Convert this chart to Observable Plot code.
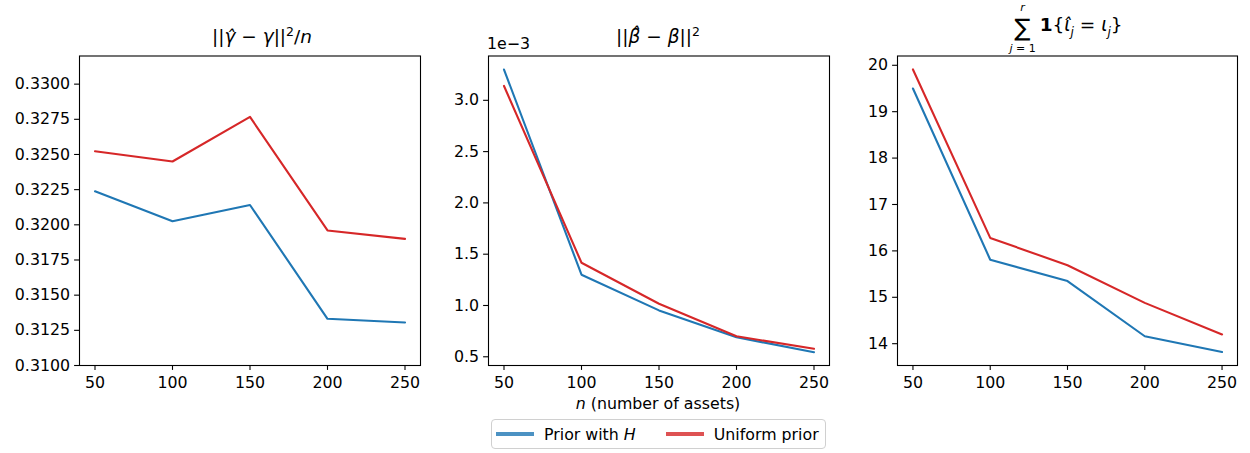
<!DOCTYPE html>
<html>
<head>
<meta charset="utf-8">
<script src="https://cdn.jsdelivr.net/npm/d3@7"></script>
<script src="https://cdn.jsdelivr.net/npm/@observablehq/plot@0.6"></script>
<style>
  html, body { margin: 0; padding: 0; background: white; }
  #chart { position: relative; width: 1250px; height: 453px; background: white; overflow: hidden;
           font-family: "DejaVu Sans", sans-serif; color: black; }
  #chart svg { position: absolute; top: 0; }
  .title { position: absolute; font-size: 18.5px; white-space: nowrap; transform: translateX(-50%); }
  .lbl { position: absolute; font-size: 15.8px; white-space: nowrap; }
  .legend { position: absolute; border: 1px solid #d0d0d0; border-radius: 4px; box-sizing: border-box;
            display: flex; align-items: center; font-size: 15.8px; background: white; }
  .legend .sw { display: inline-block; width: 38px; height: 4.5px; margin-right: 10px; }
  .legend .item { display: flex; align-items: center; }
  .stack > span { display: block; text-align: center; }
</style>
</head>
<body>
<div id="chart"></div>
<script>
// ---- data ----
const nAssets = [50, 100, 150, 200, 250];
const seriesNames = ["Prior with H", "Uniform prior"];
const seriesColors = ["#1f77b4", "#d62728"];

const gammaPriorH  = [0.32238, 0.32025, 0.32141, 0.31332, 0.31306];
const gammaUniform = [0.32523, 0.32450, 0.32767, 0.31960, 0.31900];

const betaPriorH  = [3.300e-3, 1.300e-3, 0.952e-3, 0.690e-3, 0.545e-3];
const betaUniform = [3.140e-3, 1.417e-3, 1.017e-3, 0.700e-3, 0.578e-3];

const matchPriorH  = [19.50, 15.81, 15.35, 14.16, 13.82];
const matchUniform = [19.91, 16.28, 15.69, 14.88, 14.20];

const xTicks = [50, 100, 150, 200, 250];
const gammaTicks = [0.3100, 0.3125, 0.3150, 0.3175, 0.3200, 0.3225, 0.3250, 0.3275, 0.3300];
const betaTicks = [0.5e-3, 1.0e-3, 1.5e-3, 2.0e-3, 2.5e-3, 3.0e-3];
const matchTicks = [14, 15, 16, 17, 18, 19, 20];

// ---- build ----
const chart = document.getElementById("chart");

function rowsOf(a, b) {
  return nAssets.flatMap((n, i) => [
    {n, v: a[i], s: seriesNames[0]},
    {n, v: b[i], s: seriesNames[1]}
  ]);
}

function panel({a, b, left, width, marginLeft, marginRight, yDomain, yTicks, yFormat}) {
  const svg = Plot.plot({
    width, height: 453,
    marginLeft, marginRight, marginTop: 55.5, marginBottom: 88,
    style: {fontFamily: "DejaVu Sans", fontSize: "15.8px", color: "black", background: "transparent", overflow: "visible"},
    x: {domain: [40, 260]},
    y: {domain: yDomain},
    color: {domain: seriesNames, range: seriesColors},
    marks: [
      Plot.line(rowsOf(a, b), {x: "n", y: "v", z: "s", stroke: "s", strokeWidth: 2.1}),
      Plot.frame({stroke: "black", strokeWidth: 1.1}),
      Plot.axisX({ticks: xTicks, tickSize: 4.9, tickPadding: 6, strokeWidth: 1.1, label: null, tickFormat: d => String(d)}),
      Plot.axisY({ticks: yTicks, tickSize: 4.9, tickPadding: 4.5, strokeWidth: 1.1, label: null, tickFormat: yFormat})
    ]
  });
  svg.style.left = left + "px";
  chart.appendChild(svg);
}

panel({a: gammaPriorH, b: gammaUniform, left: 0, width: 430, marginLeft: 79, marginRight: 10,
       yDomain: [0.3100, 0.3320], yTicks: gammaTicks, yFormat: d => d.toFixed(4)});
panel({a: betaPriorH, b: betaUniform, left: 430, width: 400, marginLeft: 58, marginRight: 1,
       yDomain: [0.415e-3, 3.432e-3], yTicks: betaTicks, yFormat: d => (d * 1e3).toFixed(1)});
panel({a: matchPriorH, b: matchUniform, left: 840, width: 410, marginLeft: 57, marginRight: 13,
       yDomain: [13.53, 20.2], yTicks: matchTicks, yFormat: d => String(d)});

// ---- text ----
function addHTML(html) { const t = document.createElement("div"); t.innerHTML = html; const el = t.firstElementChild; chart.appendChild(el); return el; }

addHTML(`<div class="title" style="left:262px; top:24px">||<i>γ\u0302</i> − <i>γ</i>||<sup style="font-size:12.5px">2</sup>/<i>n</i></div>`);
addHTML(`<div class="title" style="left:658px; top:24px">||<i>β\u0302</i> − <i>β</i>||<sup style="font-size:12.5px">2</sup></div>`);
addHTML(`<div class="title" style="left:1066px; top:1px; display:flex; align-items:center">
  <span class="stack" style="display:inline-block; margin-right:4px">
    <span style="font-size:11px; font-style:italic; line-height:13px; height:13px">r</span>
    <span style="font-size:24px; line-height:28px; height:28px">∑</span>
    <span style="font-size:11px; line-height:13px; height:13px"><i>j</i> = 1</span>
  </span>
  <span style="margin-top:-4px"><b>1</b>{<i>ι\u0302</i><sub style="font-size:12px"><i>j</i></sub> = <i>ι</i><sub style="font-size:12px"><i>j</i></sub>}</span>
</div>`);
addHTML(`<div class="lbl" style="left:487px; top:34px">1e−3</div>`);
addHTML(`<div class="lbl" style="left:658px; top:394px; transform:translateX(-50%)"><i>n</i> (number of assets)</div>`);

const legend = addHTML(`<div class="legend" style="left:491px; top:419px; width:335px; height:30px; padding-left:4px"></div>`);
seriesNames.forEach((name, i) => {
  const item = document.createElement("div");
  item.className = "item";
  item.style.marginRight = i === 0 ? "30px" : "0";
  const label = name === "Prior with H" ? "Prior with <i>H</i>" : name;
  item.innerHTML = `<span class="sw" style="background:${seriesColors[i]}; opacity:0.8"></span><span>${label}</span>`;
  legend.appendChild(item);
});
</script>
</body>
</html>
